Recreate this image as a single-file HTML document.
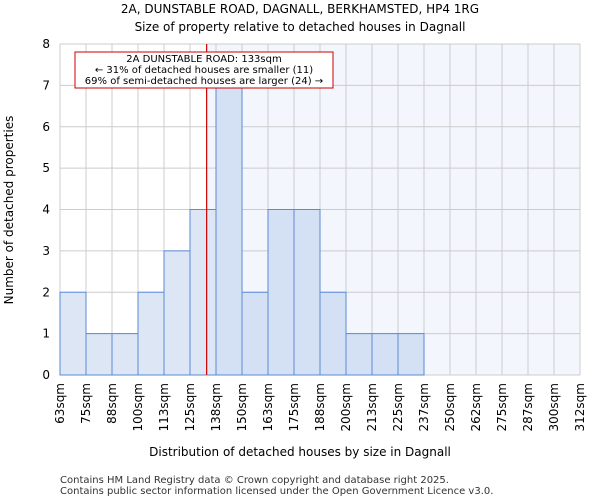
<!DOCTYPE html>
<html><head><meta charset="utf-8"><style>
body{margin:0;background:#fff;font-family:"DejaVu Sans","Liberation Sans",sans-serif}
</style></head><body>
<svg id="chart" width="600" height="500" xmlns="http://www.w3.org/2000/svg" font-family="DejaVu Sans, Liberation Sans, sans-serif">
<text x="300" y="13" text-anchor="middle" font-size="12">2A, DUNSTABLE ROAD, DAGNALL, BERKHAMSTED, HP4 1RG</text>
<text x="300" y="31" text-anchor="middle" font-size="12">Size of property relative to detached houses in Dagnall</text>
<g id="plot"></g>
<text x="300" y="456" text-anchor="middle" font-size="12">Distribution of detached houses by size in Dagnall</text>
<text transform="translate(13,210) rotate(-90)" text-anchor="middle" font-size="12">Number of detached properties</text>
<text x="60" y="483" font-size="10" fill="#333">Contains HM Land Registry data © Crown copyright and database right 2025.</text>
<text x="60" y="494" font-size="10" fill="#333">Contains public sector information licensed under the Open Government Licence v3.0.</text>
</svg>
<script>
const categories=["63sqm","75sqm","88sqm","100sqm","113sqm","125sqm","138sqm","150sqm","163sqm","175sqm","188sqm","200sqm","213sqm","225sqm","237sqm","250sqm","262sqm","275sqm","287sqm","300sqm","312sqm"];
const counts=[2,1,1,2,3,4,7,2,4,4,2,1,1,1,0,0,0,0,0,0];
const yTicks=[0,1,2,3,4,5,6,7,8];
const binStart=62.5, binWidth=12.5;
const propertySize=133;
const NS="http://www.w3.org/2000/svg";
const X0=60,X1=580,Y0=375,Y1=44,YMAX=8;
const nb=counts.length;
const bw=(X1-X0)/nb;
const xs=v=>X0+(v-binStart)/binWidth*bw;
const ys=v=>Y0-v/YMAX*(Y0-Y1);
const g=document.getElementById('plot');
function mk(t,a){const e=document.createElementNS(NS,t);for(const k in a)e.setAttribute(k,a[k]);g.appendChild(e);return e;}
const px=xs(propertySize);
let e=mk('rect',{x:px,y:Y1,width:X1-px,height:Y0-Y1,fill:'#f3f6fd'});


for(const t of yTicks){e=mk('line',{x1:X0,x2:X1,y1:ys(t),y2:ys(t),stroke:'#ccc'});


e=mk('text',{x:X0-10,y:ys(t)+4,'text-anchor':'end','font-size':12});e.textContent=t;

}
for(let i=0;i<=nb;i++){const x=X0+i*bw;e=mk('line',{x1:x,x2:x,y1:Y1,y2:Y0,stroke:'#ccc'});


e=mk('text',{transform:`translate(${x+4},${Y0+8}) rotate(-90)`,'text-anchor':'end','font-size':12});e.textContent=categories[i];

}
counts.forEach((c,i)=>{if(c<=0)return;const x=xs(binStart+i*binWidth);
e=mk('rect',{x:x,y:ys(c),width:bw,height:Y0-ys(c),fill:(binStart+i*binWidth<propertySize)?'#dce6f4':'#d4e0f3',stroke:'#5b8ad6','stroke-width':1});

});
e=mk('line',{x1:px,x2:px,y1:Y1,y2:Y0,stroke:'#cc0000','stroke-width':1.2});


e=mk('rect',{x:75,y:52,width:258,height:36,fill:'#fff',stroke:'#cc0000'});


const lines=["2A DUNSTABLE ROAD: 133sqm","← 31% of detached houses are smaller (11)","69% of semi-detached houses are larger (24) →"];
lines.forEach((l,i)=>{e=mk('text',{x:204,y:62+i*11,'text-anchor':'middle','font-size':10});e.textContent=l;

});
</script>
</body></html>
